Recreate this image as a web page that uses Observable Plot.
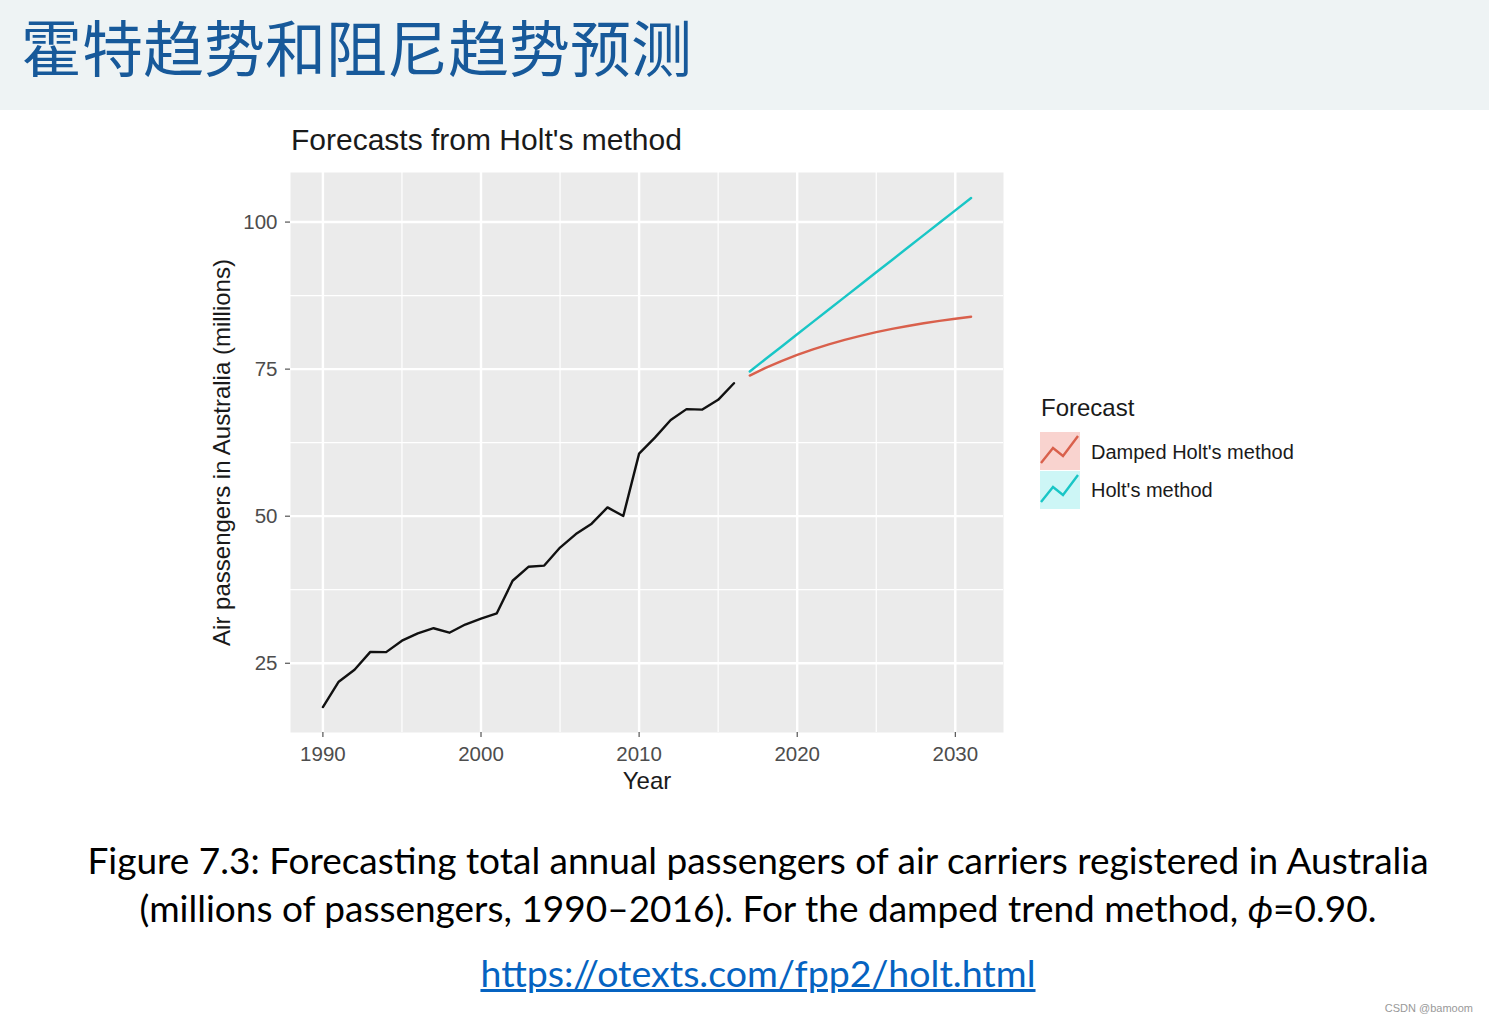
<!DOCTYPE html>
<html><head><meta charset="utf-8">
<script src="https://cdn.jsdelivr.net/npm/d3@7"></script>
<script src="https://cdn.jsdelivr.net/npm/@observablehq/plot@0.6"></script>
<style>
body{margin:0;width:1489px;height:1022px;background:#fff;position:relative;overflow:hidden;font-family:"Liberation Sans",Arial,sans-serif}
.abs{position:absolute;white-space:nowrap}
#header{left:0;top:0;width:1489px;height:110px;background:#eef3f4}
#htitle{left:21px;top:6px;font-family:"Noto Sans CJK SC";font-size:61px;line-height:80px;color:#17599a}
#ctitle{left:291px;top:122px;font-size:30px;line-height:35px;color:#1a1a1a}
#chart{left:0;top:115px}
#legtitle{left:1041px;top:394px;font-size:24px;line-height:28px;color:#1a1a1a}
.leglab{left:1091px;font-size:20px;line-height:24px;color:#1a1a1a}
#legkeys{left:1040px;top:432px}
.cap{left:0;width:1516px;text-align:center;font-family:Lato,"Open Sans",sans-serif;font-size:37px;line-height:46px;color:#000}
#link{font-size:37.5px}
#link a{color:#0563c1;text-decoration:underline}
#wm{right:16px;top:1000px;font-size:11px;line-height:16px;color:#999}
</style></head>
<body>
<div id="header" class="abs"></div>
<div id="htitle" class="abs">霍特趋势和阻尼趋势预测</div>
<div id="ctitle" class="abs">Forecasts from Holt's method</div>
<div id="chart" class="abs"></div>
<div id="legtitle" class="abs">Forecast</div>
<svg id="legkeys" class="abs" width="42" height="80"></svg>
<div class="abs leglab" id="lab0" style="top:440px"></div>
<div class="abs leglab" id="lab1" style="top:478px"></div>
<div class="abs cap" style="top:837px">Figure 7.3: Forecasting total annual passengers of air carriers registered in Australia</div>
<div class="abs cap" style="top:885px">(millions of passengers, 1990–2016). For the damped trend method, <i>ϕ</i>=0.90.</div>
<div class="abs cap" id="link" style="top:950px"><a href="https://otexts.com/fpp2/holt.html">https://otexts.com/fpp2/holt.html</a></div>
<div id="wm" class="abs">CSDN @bamoom</div>
<script>
// Observed data: annual air passengers in Australia (millions)
const years = [1990,1991,1992,1993,1994,1995,1996,1997,1998,1999,2000,2001,2002,2003,2004,2005,2006,2007,2008,2009,2010,2011,2012,2013,2014,2015,2016];
const passengers = [17.55,21.86,23.89,26.93,26.89,28.83,30.08,30.95,30.19,31.58,32.58,33.48,39.02,41.39,41.60,44.66,46.95,48.73,51.49,50.03,60.64,63.36,66.36,68.20,68.12,69.78,72.60];
// Forecasts 2017-2031
const forecastYears = [2017,2018,2019,2020,2021,2022,2023,2024,2025,2026,2027,2028,2029,2030,2031];
const holtForecast = [74.60,76.71,78.81,80.92,83.03,85.14,87.24,89.35,91.46,93.56,95.67,97.78,99.88,101.99,104.10];
const dampedForecast = [73.90,75.20,76.36,77.41,78.36,79.21,79.97,80.66,81.28,81.84,82.34,82.79,83.20,83.57,83.90];
const seriesNames = ["Damped Holt's method","Holt's method"];
const seriesColors = ["#d9604c","#19c6c6"];
const keyFills = ["#f9d3cf","#cdf6f6"];
const xTicks = [1990,2000,2010,2020,2030];
const xMinor = [1995,2005,2015,2025];
const yTicks = [25,50,75,100];
const yMinor = [37.5,62.5,87.5];

const observed = years.map((y,i)=>({year:y,value:passengers[i]}));
const fc = [
  ...forecastYears.map((y,i)=>({year:y,value:dampedForecast[i],series:seriesNames[0]})),
  ...forecastYears.map((y,i)=>({year:y,value:holtForecast[i],series:seriesNames[1]}))
];
const allX = [...years,...forecastYears];
const allY = [...passengers,...holtForecast,...dampedForecast];
const expand = ([a,b]) => [a-(b-a)*0.05, b+(b-a)*0.05];
const xDom = expand(d3.extent(allX));
const yDom = expand(d3.extent(allY));

const plot = Plot.plot({
  width:1489, height:700,
  marginLeft:290, marginRight:486, marginTop:57, marginBottom:83,
  style:{fontFamily:"Liberation Sans, Arial, sans-serif", background:"transparent", overflow:"visible"},
  x:{domain:xDom},
  y:{domain:yDom},
  color:{domain:seriesNames, range:seriesColors},
  marks:[
    Plot.frame({fill:"#ebebeb", stroke:null}),
    Plot.ruleX(xMinor,{stroke:"#fff",strokeWidth:1.2}),
    Plot.ruleY(yMinor,{stroke:"#fff",strokeWidth:1.2}),
    Plot.ruleX(xTicks,{stroke:"#fff",strokeWidth:2.4}),
    Plot.ruleY(yTicks,{stroke:"#fff",strokeWidth:2.4}),
    Plot.line(observed,{x:"year",y:"value",stroke:"#111",strokeWidth:2.4}),
    Plot.line(fc,{x:"year",y:"value",z:"series",stroke:"series",strokeWidth:2.4}),
    Plot.axisX({ticks:xTicks, tickFormat:d=>String(d), tickSize:5, tickPadding:9, fontSize:20.5, color:"#4d4d4d", stroke:"#333", label:null}),
    Plot.axisY({ticks:yTicks, tickSize:5, tickPadding:8, fontSize:20.5, color:"#4d4d4d", stroke:"#333", label:null}),
    Plot.text(["Year"],{frameAnchor:"bottom", lineAnchor:"middle", dy:49, fontSize:24, fill:"#1a1a1a"}),
    Plot.text(["Air passengers in Australia (millions)"],{frameAnchor:"left", dx:-68, rotate:-90, textAnchor:"middle", fontSize:24, fill:"#1a1a1a"})
  ]
});
document.getElementById("chart").appendChild(plot);

// legend
document.getElementById("lab0").textContent = seriesNames[0];
document.getElementById("lab1").textContent = seriesNames[1];
const lk = d3.select("#legkeys");
seriesNames.forEach((s,i)=>{
  const g = lk.append("g").attr("transform",`translate(0,${i*39})`);
  g.append("rect").attr("x",0).attr("y",0).attr("width",40).attr("height",38).attr("fill",keyFills[i]);
  g.append("polyline").attr("points","1,31 13,16 23,24 38,4").attr("fill","none").attr("stroke",seriesColors[i]).attr("stroke-width",2.4);
});
</script>
</body></html>
